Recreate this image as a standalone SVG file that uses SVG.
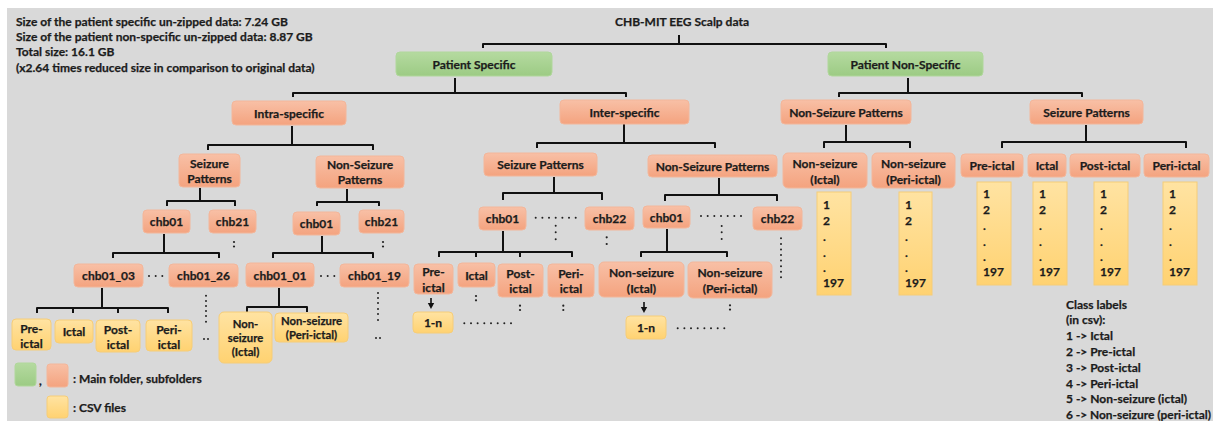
<svg xmlns="http://www.w3.org/2000/svg" width="1213" height="421" viewBox="0 0 1213 421">
<style>
.t{font-family:Lato,"Liberation Sans",sans-serif;font-weight:700;font-size:12px;fill:#1c1c1c;stroke:#1c1c1c;stroke-width:0.25;text-anchor:middle}
.l{text-anchor:start}
.sm{font-size:11.3px}
.s{fill:url(#gs);stroke:#f3b69a;stroke-width:1}
.g{fill:url(#gg);stroke:#b0d79b;stroke-width:1}
.y{fill:url(#gy);stroke:#f6cd78;stroke-width:1}
.c{fill:none;stroke:#111;stroke-width:2;stroke-linejoin:round}
.d{fill:#222}
.a{fill:none;stroke:#111;stroke-width:1.6}
.ah{fill:#111}
</style>
<defs>
<linearGradient id="gs" x1="0" y1="0" x2="0" y2="1"><stop offset="0" stop-color="#f8c0a6"/><stop offset="1" stop-color="#f4a37f"/></linearGradient>
<linearGradient id="gg" x1="0" y1="0" x2="0" y2="1"><stop offset="0" stop-color="#b5daa0"/><stop offset="1" stop-color="#9ccb84"/></linearGradient>
<linearGradient id="gy" x1="0" y1="0" x2="0" y2="1"><stop offset="0" stop-color="#ffe3a2"/><stop offset="1" stop-color="#ffd271"/></linearGradient>
</defs>
<rect x="0" y="0" width="1213" height="421" fill="#ffffff"/>
<rect x="7" y="8" width="1206" height="413" fill="#d9d9d9"/>

<g id="info">
<text class="t l" x="16" y="26">Size of the patient specific un-zipped data: 7.24 GB</text>
<text class="t l" x="16" y="41">Size of the patient non-specific un-zipped data: 8.87 GB</text>
<text class="t l" x="16" y="56">Total size: 16.1 GB</text>
<text class="t l" x="16" y="72">(x2.64 times reduced size in comparison to original data)</text>
</g>

<g id="connectors">
<path class="c" d="M679 35V44M483 48V44H886V48"/>
<path class="c" d="M455 78V93M293 97V93H626V97"/>
<path class="c" d="M908 78V93M839 97V93H1082V97"/>
<path class="c" d="M292 126V145M208 150V145H373V150"/>
<path class="c" d="M200 188V201M167 206V201H235V206"/>
<path class="c" d="M347 189V202M317 206V202H379V206"/>
<path class="c" d="M164 234V253M113 258V253H219V258"/>
<path class="c" d="M322 236V253M273 258V253H373V258"/>
<path class="c" d="M102 288V308M37 313V308H168V313M73 308V313M118 308V313"/>
<path class="c" d="M279 288V307M247 312V307H307V312"/>
<path class="c" d="M624 124V143M537 148V143H715V148"/>
<path class="c" d="M554 177V193M503 200V193H602V200"/>
<path class="c" d="M719 178V195M665 201V195H777V201"/>
<path class="c" d="M503 231V252M439 257V252H572V257M476 252V257M520 252V257"/>
<path class="c" d="M667 229V252M641 257V252H727V257"/>
<path class="c" d="M846 125V142M824 148V142H910V148"/>
<path class="c" d="M1086 125V142M1002 148V142H1186V148"/>
<path class="a" d="M431 298V304"/><path class="ah" d="M427.8 303H434.2L431 309Z"/>
<path class="a" d="M644 302V308"/><path class="ah" d="M640.8 307H647.2L644 313Z"/>
</g>

<g id="title"><text class="t" x="682" y="26">CHB-MIT EEG Scalp data</text></g>
<g id="patient-specific"><rect class="g" x="396" y="52" width="156" height="24" rx="4"/><text class="t" x="474" y="68.5">Patient Specific</text></g>
<g id="patient-non-specific"><rect class="g" x="828" y="52" width="155" height="24" rx="4"/><text class="t" x="905.5" y="68.5">Patient Non-Specific</text></g>
<g id="intra"><rect class="s" x="232" y="101" width="114" height="24" rx="4"/><text class="t" x="289" y="117.5">Intra-specific</text></g>
<g id="inter"><rect class="s" x="560" y="100" width="129" height="24" rx="4"/><text class="t" x="624.5" y="116.5">Inter-specific</text></g>
<g id="pns-nonseizure"><rect class="s" x="781" y="100" width="130" height="24" rx="4"/><text class="t" x="846" y="116.5">Non-Seizure Patterns</text></g>
<g id="pns-seizure"><rect class="s" x="1030" y="100" width="113" height="24" rx="4"/><text class="t" x="1086.5" y="116.5">Seizure Patterns</text></g>

<g id="intra-seizure"><rect class="s" x="179" y="154" width="61" height="33" rx="4"/><text class="t" x="209.5" y="167.5">Seizure<tspan x="209.5" dy="15">Patterns</tspan></text></g>
<g id="intra-nonseizure"><rect class="s" x="316" y="156" width="88" height="32" rx="4"/><text class="t" x="360" y="168.5">Non-Seizure<tspan x="360" dy="15.5">Patterns</tspan></text></g>
<g id="intra-s-chb01"><rect class="s" x="143" y="210" width="47" height="23" rx="4"/><text class="t" x="166.5" y="226">chb01</text></g>
<g id="intra-s-chb21"><rect class="s" x="209" y="210" width="47" height="23" rx="4"/><text class="t" x="232.5" y="226">chb21</text></g>
<g id="intra-n-chb01"><rect class="s" x="293" y="212" width="47" height="23" rx="4"/><text class="t" x="316.5" y="228">chb01</text></g>
<g id="intra-n-chb21"><rect class="s" x="359" y="210" width="45" height="23" rx="4"/><text class="t" x="381.5" y="226">chb21</text></g>
<g id="chb01_03"><rect class="s" x="74" y="264" width="69" height="23" rx="4"/><text class="t" x="108.5" y="280">chb01_03</text></g>
<g id="chb01_26"><rect class="s" x="169" y="264" width="69" height="23" rx="4"/><text class="t" x="203.5" y="280">chb01_26</text></g>
<g id="chb01_01"><rect class="s" x="246" y="263" width="68" height="24" rx="4"/><text class="t" x="280" y="279.5">chb01_01</text></g>
<g id="chb01_19"><rect class="s" x="340" y="264" width="69" height="23" rx="4"/><text class="t" x="374.5" y="280">chb01_19</text></g>

<g id="csv-preictal"><rect class="y" x="12" y="319" width="39" height="31" rx="4"/><text class="t" x="31.5" y="332.5">Pre-<tspan x="31.5" dy="15">ictal</tspan></text></g>
<g id="csv-ictal"><rect class="y" x="55" y="320" width="38" height="23" rx="4"/><text class="t" x="74" y="336">Ictal</text></g>
<g id="csv-postictal"><rect class="y" x="96" y="320" width="44" height="32" rx="4"/><text class="t" x="118" y="333.5">Post-<tspan x="118" dy="15">ictal</tspan></text></g>
<g id="csv-periictal"><rect class="y" x="146" y="320" width="46" height="31" rx="4"/><text class="t" x="169" y="333.5">Peri-<tspan x="169" dy="15">ictal</tspan></text></g>
<g id="csv-nonseizure-ictal"><rect class="y" x="219" y="312" width="53" height="51" rx="5"/><text class="t sm" x="245.5" y="328">Non-<tspan x="245.5" dy="14">seizure</tspan><tspan x="245.5" dy="14">(Ictal)</tspan></text></g>
<g id="csv-nonseizure-periictal"><rect class="y" x="275" y="313" width="73" height="29" rx="4"/><text class="t sm" x="311.5" y="325">Non-seizure<tspan x="311.5" dy="14">(Peri-ictal)</tspan></text></g>

<g id="inter-seizure"><rect class="s" x="484" y="153" width="113" height="23" rx="4"/><text class="t" x="540.5" y="169">Seizure Patterns</text></g>
<g id="inter-nonseizure"><rect class="s" x="648" y="155" width="129" height="22" rx="4"/><text class="t" x="712.5" y="170.5">Non-Seizure Patterns</text></g>
<g id="inter-s-chb01"><rect class="s" x="479" y="207" width="47" height="23" rx="4"/><text class="t" x="502.5" y="223">chb01</text></g>
<g id="inter-s-chb22"><rect class="s" x="585" y="207" width="49" height="23" rx="4"/><text class="t" x="609.5" y="223">chb22</text></g>
<g id="inter-n-chb01"><rect class="s" x="643" y="206" width="47" height="22" rx="4"/><text class="t" x="666.5" y="221.5">chb01</text></g>
<g id="inter-n-chb22"><rect class="s" x="753" y="207" width="49" height="23" rx="4"/><text class="t" x="777.5" y="223">chb22</text></g>
<g id="inter-preictal"><rect class="s" x="414" y="264" width="39" height="30" rx="4"/><text class="t" x="433.5" y="275.5">Pre-<tspan x="433.5" dy="16">ictal</tspan></text></g>
<g id="inter-ictal"><rect class="s" x="458" y="263" width="37" height="24" rx="4"/><text class="t" x="476.5" y="279.5">Ictal</text></g>
<g id="inter-postictal"><rect class="s" x="498" y="264" width="45" height="33" rx="4"/><text class="t" x="520.5" y="277.5">Post-<tspan x="520.5" dy="15.5">ictal</tspan></text></g>
<g id="inter-periictal"><rect class="s" x="548" y="264" width="46" height="33" rx="4"/><text class="t" x="571" y="277.5">Peri-<tspan x="571" dy="15.5">ictal</tspan></text></g>
<g id="inter-1n-a"><rect class="y" x="413" y="312" width="40" height="21" rx="4"/><text class="t" x="433" y="327">1-n</text></g>
<g id="inter-nonseizure-ictal"><rect class="s" x="599" y="262" width="85" height="35" rx="5"/><text class="t" x="641.5" y="276.5">Non-seizure<tspan x="641.5" dy="16">(Ictal)</tspan></text></g>
<g id="inter-nonseizure-periictal"><rect class="s" x="688" y="262" width="84" height="36" rx="5"/><text class="t" x="730" y="276.5">Non-seizure<tspan x="730" dy="16">(Peri-ictal)</tspan></text></g>
<g id="inter-1n-b"><rect class="y" x="626" y="316" width="40" height="23" rx="4"/><text class="t" x="646" y="332">1-n</text></g>

<g id="pns-nonseizure-ictal"><rect class="s" x="783" y="153" width="84" height="35" rx="5"/><text class="t" x="825" y="167.5">Non-seizure<tspan x="825" dy="16">(Ictal)</tspan></text></g>
<g id="pns-nonseizure-periictal"><rect class="s" x="872" y="153" width="83" height="35" rx="5"/><text class="t" x="913.5" y="167.5">Non-seizure<tspan x="913.5" dy="16">(Peri-ictal)</tspan></text></g>
<g id="pns-list-1"><rect class="y" x="817" y="192" width="34" height="103"/><text class="t l" x="823" y="208.5">1<tspan x="823" dy="16">2</tspan><tspan x="823" dy="16">.</tspan><tspan x="823" dy="16">.</tspan><tspan x="823" dy="15">.</tspan><tspan x="823" dy="15">197</tspan></text></g>
<g id="pns-list-2"><rect class="y" x="899" y="192" width="33" height="103"/><text class="t l" x="905" y="208.5">1<tspan x="905" dy="16">2</tspan><tspan x="905" dy="16">.</tspan><tspan x="905" dy="16">.</tspan><tspan x="905" dy="15">.</tspan><tspan x="905" dy="15">197</tspan></text></g>

<g id="ps-preictal"><rect class="s" x="961" y="154" width="62" height="23" rx="4"/><text class="t" x="992" y="170">Pre-ictal</text></g>
<g id="ps-ictal"><rect class="s" x="1028" y="154" width="38" height="23" rx="4"/><text class="t" x="1047" y="170">Ictal</text></g>
<g id="ps-postictal"><rect class="s" x="1070" y="154" width="70" height="23" rx="4"/><text class="t" x="1105" y="170">Post-ictal</text></g>
<g id="ps-periictal"><rect class="s" x="1144" y="154" width="65" height="23" rx="4"/><text class="t" x="1176.5" y="170">Peri-ictal</text></g>
<g id="ps-list-1"><rect class="y" x="977" y="182" width="34" height="103"/><text class="t l" x="983" y="197.5">1<tspan x="983" dy="16">2</tspan><tspan x="983" dy="16">.</tspan><tspan x="983" dy="16">.</tspan><tspan x="983" dy="15">.</tspan><tspan x="983" dy="15">197</tspan></text></g>
<g id="ps-list-2"><rect class="y" x="1033" y="182" width="34" height="103"/><text class="t l" x="1039" y="197.5">1<tspan x="1039" dy="16">2</tspan><tspan x="1039" dy="16">.</tspan><tspan x="1039" dy="16">.</tspan><tspan x="1039" dy="15">.</tspan><tspan x="1039" dy="15">197</tspan></text></g>
<g id="ps-list-3"><rect class="y" x="1094" y="182" width="34" height="103"/><text class="t l" x="1100" y="197.5">1<tspan x="1100" dy="16">2</tspan><tspan x="1100" dy="16">.</tspan><tspan x="1100" dy="16">.</tspan><tspan x="1100" dy="15">.</tspan><tspan x="1100" dy="15">197</tspan></text></g>
<g id="ps-list-4"><rect class="y" x="1163" y="182" width="34" height="103"/><text class="t l" x="1169" y="197.5">1<tspan x="1169" dy="16">2</tspan><tspan x="1169" dy="16">.</tspan><tspan x="1169" dy="16">.</tspan><tspan x="1169" dy="15">.</tspan><tspan x="1169" dy="15">197</tspan></text></g>

<g id="ellipses">
<circle class="d" cx="149" cy="276" r="1"/><circle class="d" cx="155.7" cy="276" r="1"/><circle class="d" cx="162.3" cy="276" r="1"/>
<circle class="d" cx="321" cy="276" r="1"/><circle class="d" cx="327.7" cy="276" r="1"/><circle class="d" cx="334.3" cy="276" r="1"/>
<circle class="d" cx="234" cy="242" r="1.1"/><circle class="d" cx="234" cy="246.5" r="1.1"/>
<circle class="d" cx="383" cy="242" r="1.1"/><circle class="d" cx="383" cy="246.5" r="1.1"/>
<circle class="d" cx="206" cy="295.7" r="1"/><circle class="d" cx="206" cy="301" r="1"/><circle class="d" cx="206" cy="306" r="1"/><circle class="d" cx="206" cy="311" r="1"/><circle class="d" cx="206" cy="316" r="1"/><circle class="d" cx="206" cy="321.7" r="1"/>
<circle class="d" cx="204" cy="339" r="1"/><circle class="d" cx="208" cy="339" r="1"/>
<circle class="d" cx="378" cy="293" r="1"/><circle class="d" cx="378" cy="298" r="1"/><circle class="d" cx="378" cy="303" r="1"/><circle class="d" cx="378" cy="309" r="1"/><circle class="d" cx="378" cy="314" r="1"/><circle class="d" cx="378" cy="320" r="1"/>
<circle class="d" cx="376" cy="338" r="1"/><circle class="d" cx="380" cy="338" r="1"/>
<circle class="d" cx="535.7" cy="217.7" r="1"/><circle class="d" cx="542.4" cy="217.7" r="1"/><circle class="d" cx="549" cy="217.7" r="1"/><circle class="d" cx="555.7" cy="217.7" r="1"/><circle class="d" cx="562.4" cy="217.7" r="1"/><circle class="d" cx="569" cy="217.7" r="1"/><circle class="d" cx="575.7" cy="217.7" r="1"/>
<circle class="d" cx="555.7" cy="225.7" r="1"/><circle class="d" cx="555.7" cy="232.3" r="1"/><circle class="d" cx="555.7" cy="239.3" r="1"/>
<circle class="d" cx="606.7" cy="237.3" r="1.1"/><circle class="d" cx="606.7" cy="244" r="1.1"/>
<circle class="d" cx="701" cy="216" r="1"/><circle class="d" cx="707.7" cy="216" r="1"/><circle class="d" cx="714.3" cy="216" r="1"/><circle class="d" cx="721" cy="216" r="1"/><circle class="d" cx="727.7" cy="216" r="1"/><circle class="d" cx="734.3" cy="216" r="1"/><circle class="d" cx="741" cy="216" r="1"/>
<circle class="d" cx="721.7" cy="226" r="1"/><circle class="d" cx="721.7" cy="232.3" r="1"/><circle class="d" cx="721.7" cy="239" r="1"/>
<circle class="d" cx="781" cy="238.3" r="1"/><circle class="d" cx="781" cy="243.9" r="1"/><circle class="d" cx="781" cy="249.5" r="1"/><circle class="d" cx="781" cy="255" r="1"/><circle class="d" cx="781" cy="260.6" r="1"/><circle class="d" cx="781" cy="266.2" r="1"/><circle class="d" cx="781" cy="271.8" r="1"/><circle class="d" cx="781" cy="277.3" r="1"/>
<circle class="d" cx="476" cy="296" r="1.1"/><circle class="d" cx="476" cy="300.3" r="1.1"/>
<circle class="d" cx="520" cy="305.7" r="1.1"/><circle class="d" cx="520" cy="310" r="1.1"/>
<circle class="d" cx="563.3" cy="305.7" r="1.1"/><circle class="d" cx="563.3" cy="310" r="1.1"/>
<circle class="d" cx="730" cy="305.3" r="1.1"/><circle class="d" cx="730" cy="309.6" r="1.1"/>
<circle class="d" cx="464.3" cy="323.3" r="1"/><circle class="d" cx="471" cy="323.3" r="1"/><circle class="d" cx="477.6" cy="323.3" r="1"/><circle class="d" cx="484.3" cy="323.3" r="1"/><circle class="d" cx="491" cy="323.3" r="1"/><circle class="d" cx="497.7" cy="323.3" r="1"/><circle class="d" cx="504.3" cy="323.3" r="1"/><circle class="d" cx="511" cy="323.3" r="1"/>
<circle class="d" cx="677.7" cy="328.3" r="1"/><circle class="d" cx="684.4" cy="328.3" r="1"/><circle class="d" cx="691" cy="328.3" r="1"/><circle class="d" cx="697.7" cy="328.3" r="1"/><circle class="d" cx="704.4" cy="328.3" r="1"/><circle class="d" cx="711" cy="328.3" r="1"/><circle class="d" cx="717.7" cy="328.3" r="1"/><circle class="d" cx="724.3" cy="328.3" r="1"/>
</g>

<g id="legend">
<rect class="g" x="15" y="363" width="21" height="23" rx="3"/>
<text class="t l" x="39" y="385">,</text>
<rect class="s" x="47" y="364" width="21" height="23" rx="3"/>
<text class="t l" x="73" y="382.5">: Main folder, subfolders</text>
<rect class="y" x="47" y="396" width="21" height="22" rx="3"/>
<text class="t l" x="73" y="411.5">: CSV files</text>
</g>

<g id="class-labels">
<text class="t l" x="1066" y="308.5">Class labels<tspan x="1066" dy="15.8">(in csv):</tspan><tspan x="1066" dy="15.8">1 -&gt; Ictal</tspan><tspan x="1066" dy="15.8">2 -&gt; Pre-ictal</tspan><tspan x="1066" dy="15.8">3 -&gt; Post-ictal</tspan><tspan x="1066" dy="15.8">4 -&gt; Peri-ictal</tspan><tspan x="1066" dy="15.8">5 -&gt; Non-seizure (ictal)</tspan></text>
<text class="t l" x="1066" y="419" textLength="145" lengthAdjust="spacingAndGlyphs">6 -&gt; Non-seizure (peri-ictal)</text>
</g>
</svg>
